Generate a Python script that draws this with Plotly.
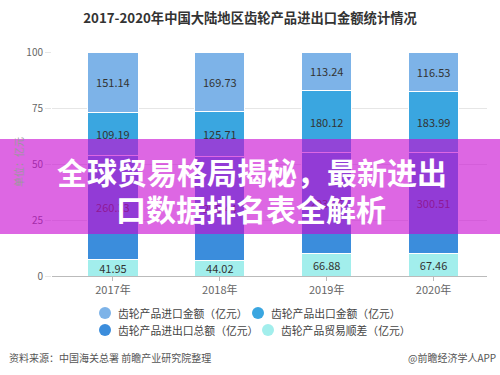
import plotly.graph_objects as go

# Gear product trade, China mainland, 2017-2020 (unit: 100 million yuan)
years = ["2017年", "2018年", "2019年", "2020年"]
import_value = [151.14, 169.73, 113.24, 116.53]
export_value = [109.19, 125.71, 180.12, 183.99]
total_value = [260.33, 295.44, 293.36, 300.51]
trade_surplus = [41.95, 44.02, 66.88, 67.46]

series_names = [
    "齿轮产品进口金额（亿元）",
    "齿轮产品出口金额（亿元）",
    "齿轮产品进出口总额（亿元）",
    "齿轮产品贸易顺差（亿元）",
]
series_colors = ["#7db3e8", "#3aa6e0", "#3b8ddc", "#a2eeec"]

FONT = "Noto Sans CJK SC, Microsoft YaHei, sans-serif"

fig = go.Figure()

# stacked bottom-to-top: surplus, total, export, import
stack = [
    (trade_surplus, 3),
    (total_value, 2),
    (export_value, 1),
    (import_value, 0),
]
for vals, idx in stack:
    fig.add_trace(go.Bar(
        x=years, y=vals, name=series_names[idx],
        marker=dict(color=series_colors[idx], line=dict(color="white", width=1)),
        text=[f"{v:.2f}" for v in vals],
        textposition="inside", insidetextanchor="middle",
        textfont=dict(color="#333333", size=11, family=FONT),
        showlegend=False, hoverinfo="skip",
    ))

# plot area: x 52..487, y 52..276 (pixels)
L, R, T, B = 52, 13, 52, 99
W, H = 500, 375
pw, ph = W - L - R, H - T - B


def px_x(p):
    return (p - L) / pw


def px_y(p):
    return (H - B - p) / ph


fig.update_layout(
    width=W, height=H,
    margin=dict(l=L, r=R, t=T, b=B),
    paper_bgcolor="white", plot_bgcolor="white",
    barmode="stack", barnorm="percent", bargap=0.53,
    uniformtext=dict(minsize=11, mode="show"),
    showlegend=False,
    font=dict(family=FONT, color="#555555"),
    title=dict(
        text="<b>2017-2020年中国大陆地区齿轮产品进出口金额统计情况</b>",
        x=0.5, xanchor="center", y=1 - 18 / H, yanchor="middle",
        font=dict(size=13.3, color="#333333", family=FONT),
    ),
    xaxis=dict(
        range=[-0.57, 3.5], showgrid=False,
        showline=True, linecolor="#bbbbbb", linewidth=1,
        ticks="outside", ticklen=4, tickcolor="#bbbbbb",
        tickfont=dict(size=11, color="#666666", family=FONT),
    ),
    yaxis=dict(
        range=[0, 100], tickvals=[0, 25, 50, 75, 100],
        showgrid=True, gridcolor="#e6e6e6", gridwidth=1,
        zeroline=False, showline=False,
        ticks="outside", ticklen=6, tickcolor="#e6e6e6",
        tickfont=dict(size=10, color="#666666", family=FONT),
    ),
)

# legend: two rows of round swatches with labels
legend_slots = [(105, 313), (258, 313), (105, 330), (268, 330)]
for idx, (mx, my) in enumerate(legend_slots):
    fig.add_shape(
        type="circle", xref="paper", yref="paper",
        xsizemode="pixel", ysizemode="pixel",
        xanchor=px_x(mx), yanchor=px_y(my),
        x0=-6, x1=6, y0=-6, y1=6,
        fillcolor=series_colors[idx], line=dict(width=0),
    )
    fig.add_annotation(
        xref="paper", yref="paper", x=px_x(mx + 11), y=px_y(my),
        text=series_names[idx], showarrow=False,
        font=dict(size=10.8, color="#444444", family=FONT),
        xanchor="left", yanchor="middle",
    )

# unit label beside the value axis
fig.add_annotation(
    xref="paper", yref="paper", x=px_x(18), y=px_y(162),
    text="单位：亿元", showarrow=False, textangle=-90,
    font=dict(size=10, color="#999999", family=FONT),
    xanchor="center", yanchor="middle",
)

# translucent magenta banner across the middle
fig.add_shape(
    type="rect", xref="paper", yref="paper",
    x0=px_x(0), x1=px_x(W), y0=px_y(234), y1=px_y(139),
    fillcolor="rgba(200,10,210,0.62)", line=dict(width=0), layer="above",
)
fig.add_annotation(
    xref="paper", yref="paper", x=px_x(252), y=px_y(171),
    text="<b>全球贸易格局揭秘，最新进出</b>", showarrow=False,
    font=dict(size=30, color="white", family=FONT),
    xanchor="center", yanchor="middle",
)
fig.add_annotation(
    xref="paper", yref="paper", x=px_x(251), y=px_y(208),
    text="<b>口数据排名表全解析</b>", showarrow=False,
    font=dict(size=30, color="white", family=FONT),
    xanchor="center", yanchor="middle",
)

# footer
fig.add_annotation(
    xref="paper", yref="paper", x=px_x(7), y=px_y(357),
    text="资料来源：中国海关总署 前瞻产业研究院整理", showarrow=False,
    font=dict(size=10, color="#555555", family=FONT),
    xanchor="left", yanchor="middle",
)
fig.add_annotation(
    xref="paper", yref="paper", x=px_x(498), y=px_y(357),
    text="@前瞻经济学人APP", showarrow=False,
    font=dict(size=10, color="#555555", family=FONT),
    xanchor="right", yanchor="middle",
)

fig.write_html("out.html")
